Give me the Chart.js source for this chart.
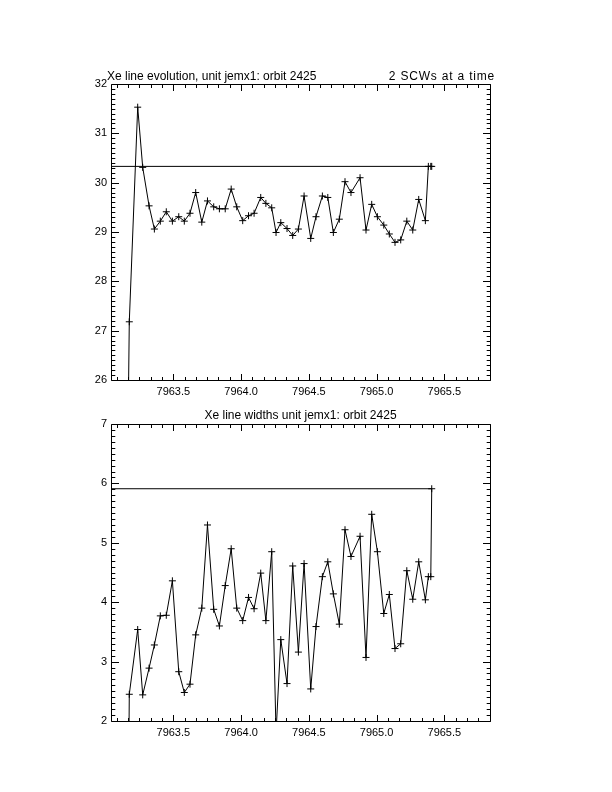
<!DOCTYPE html>
<html><head><meta charset="utf-8">
<script src="https://cdn.jsdelivr.net/npm/chart.js@4.4.0/dist/chart.umd.min.js"></script>
<style>
html,body{margin:0;padding:0;background:#fff;width:612px;height:792px;overflow:hidden}
.c{position:absolute;left:0}
</style></head><body>
<div class="c" style="top:0;width:612px;height:400px"><canvas id="topChart" width="612" height="400"></canvas></div>
<div class="c" style="top:400px;width:612px;height:392px"><canvas id="botChart" width="612" height="392"></canvas></div>
<script>
// Time (days) of each point, shared by both panels
const times = [
  7963.168, 7963.175, 7963.237, 7963.274, 7963.321, 7963.360, 7963.404, 7963.448, 7963.493, 7963.540,
  7963.581, 7963.623, 7963.665, 7963.710, 7963.752, 7963.798, 7963.840, 7963.883, 7963.927, 7963.968,
  7964.012, 7964.055, 7964.096, 7964.145, 7964.183, 7964.226, 7964.258, 7964.293, 7964.339, 7964.381,
  7964.423, 7964.465, 7964.514, 7964.553, 7964.600, 7964.640, 7964.681, 7964.725, 7964.767, 7964.811,
  7964.878, 7964.922, 7964.964, 7965.006, 7965.053, 7965.094, 7965.136, 7965.178, 7965.223, 7965.267,
  7965.311, 7965.360, 7965.382, 7965.400, 7965.407, 7962.000
];
// Xe line energy (top panel)
const xeLine = [
  25.5, 27.18, 31.53, 30.31, 29.53, 29.06, 29.22, 29.41, 29.22, 29.31,
  29.22, 29.38, 29.80, 29.20, 29.63, 29.51, 29.47, 29.47, 29.87, 29.51,
  29.23, 29.33, 29.38, 29.70, 29.58, 29.49, 28.99, 29.19, 29.07, 28.93,
  29.06, 29.73, 28.87, 29.31, 29.73, 29.70, 28.99, 29.26, 30.02, 29.80,
  30.10, 29.04, 29.56, 29.31, 29.14, 28.96, 28.79, 28.84, 29.22, 29.04,
  29.66, 29.23, 30.33, 30.33, 30.33, 30.33
];
// Xe line width (bottom panel)
const xeWidth = [
  0.5, 2.45, 3.54, 2.44, 2.89, 3.28, 3.77, 3.78, 4.36, 2.83,
  2.48, 2.62, 3.45, 3.90, 5.30, 3.88, 3.60, 4.28, 4.90, 3.90,
  3.69, 4.08, 3.89, 4.49, 3.69, 4.85, 1.80, 3.37, 2.63, 4.61,
  3.16, 4.65, 2.54, 3.59, 4.43, 4.68, 4.14, 3.63, 5.22, 4.77,
  5.11, 3.07, 5.48, 4.85, 3.81, 4.13, 3.22, 3.30, 4.53, 4.05,
  4.68, 4.04, 4.43, 4.43, 5.91, 5.91
];
const xTickValues = [7963.5, 7964.0, 7964.5, 7965.0, 7965.5];
const xTickLabels = ['7963.5', '7964.0', '7964.5', '7965.0', '7965.5'];
const topYTicks = [26, 27, 28, 29, 30, 31, 32];
const botYTicks = [2, 3, 4, 5, 6, 7];
const xRange = [7963.04, 7965.837];

const TICK_FONT = {family: 'Liberation Sans', size: 11};
const TITLE_FONT = '12px "Liberation Sans"';

const framePlugin = {
  id: 'frame',
  afterDatasetsDraw(chart) {
    const {ctx, chartArea: a, scales: {x, y}} = chart;
    ctx.save();
    ctx.strokeStyle = '#000';
    ctx.lineWidth = 1;
    const L = Math.round(a.left) + 0.5, R = Math.round(a.right) + 0.5;
    const T = Math.round(a.top) + 0.5, B = Math.round(a.bottom) + 0.5;
    ctx.beginPath();
    ctx.rect(L, T, R - L, B - T);
    // x ticks: minor every 1/12, major every 1/2
    const k0 = Math.ceil(x.min * 12), k1 = Math.floor(x.max * 12);
    for (let k = k0; k <= k1; k++) {
      const px = Math.round(x.getPixelForValue(k / 12)) + 0.5;
      const len = (k % 6 === 0) ? 6.5 : 3.5;
      ctx.moveTo(px, B); ctx.lineTo(px, B - len);
      ctx.moveTo(px, T); ctx.lineTo(px, T + len);
    }
    // y ticks: minor every 0.1, major every 1
    const j0 = Math.ceil(y.min * 10 - 1e-6), j1 = Math.floor(y.max * 10 + 1e-6);
    for (let j = j0; j <= j1; j++) {
      const py = Math.round(y.getPixelForValue(j / 10)) + 0.5;
      const len = (j % 10 === 0) ? 7.5 : 3.8;
      ctx.moveTo(L, py); ctx.lineTo(L + len, py);
      ctx.moveTo(R, py); ctx.lineTo(R - len, py);
    }
    ctx.stroke();
    ctx.restore();
  }
};

const titlePlugin = {
  id: 'titles',
  afterDraw(chart, args, opts) {
    const {ctx, chartArea: a} = chart;
    ctx.save();
    ctx.fillStyle = '#000';
    ctx.font = TITLE_FONT;
    ctx.textBaseline = 'alphabetic';
    if (opts.left) { ctx.textAlign = 'left'; ctx.fillText(opts.left, a.left - 4, a.top - 4); }
    if (opts.right) {
      ctx.textAlign = 'right';
      ctx.letterSpacing = '0.8px';
      ctx.fillText(opts.right, a.right + 5, a.top - 4);
      ctx.letterSpacing = '0px';
    }
    if (opts.center) { ctx.textAlign = 'center'; ctx.fillText(opts.center, (a.left + a.right) / 2, a.top - 5); }
    ctx.restore();
  }
};

function makeChart(id, values, yTicks, padTop, xAxisH, titles) {
  return new Chart(document.getElementById(id), {
    type: 'line',
    data: {
      datasets: [{
        data: times.map((t, i) => ({x: t, y: values[i]})),
        borderColor: '#000',
        borderWidth: 1,
        pointStyle: 'cross',
        pointRadius: 3.5,
        pointBorderColor: '#000',
        pointBorderWidth: 1,
        tension: 0,
        fill: false,
        clip: 0
      }]
    },
    options: {
      responsive: false,
      animation: false,
      devicePixelRatio: 1,
      layout: {padding: {top: padTop, left: 0, right: 122, bottom: 0}},
      plugins: {legend: {display: false}, tooltip: {enabled: false}, titles: titles},
      scales: {
        x: {
          type: 'linear', min: xRange[0], max: xRange[1],
          grid: {display: false, drawTicks: false},
          border: {display: false},
          afterBuildTicks: s => { s.ticks = xTickValues.map(v => ({value: v})); },
          afterFit: s => { s.height = xAxisH; },
          ticks: {font: TICK_FONT, color: '#000', padding: 5, maxRotation: 0, autoSkip: false,
                  callback: (v, i) => xTickLabels[i]}
        },
        y: {
          type: 'linear', min: yTicks[0], max: yTicks[yTicks.length - 1],
          grid: {display: false, drawTicks: false},
          border: {display: false},
          afterBuildTicks: s => { s.ticks = yTicks.map(v => ({value: v})); },
          afterFit: s => { s.width = 111; },
          ticks: {font: TICK_FONT, color: '#000', padding: 4, autoSkip: false,
                  callback: (v, i) => String(yTicks[i])}
        }
      }
    },
    plugins: [framePlugin, titlePlugin]
  });
}

makeChart('topChart', xeLine, topYTicks, 84, 20,
  {left: 'Xe line evolution, unit jemx1: orbit 2425', right: '2 SCWs at a time'});
makeChart('botChart', xeWidth, botYTicks, 24, 71,
  {center: 'Xe line widths unit jemx1: orbit 2425'});
</script>
</body></html>
